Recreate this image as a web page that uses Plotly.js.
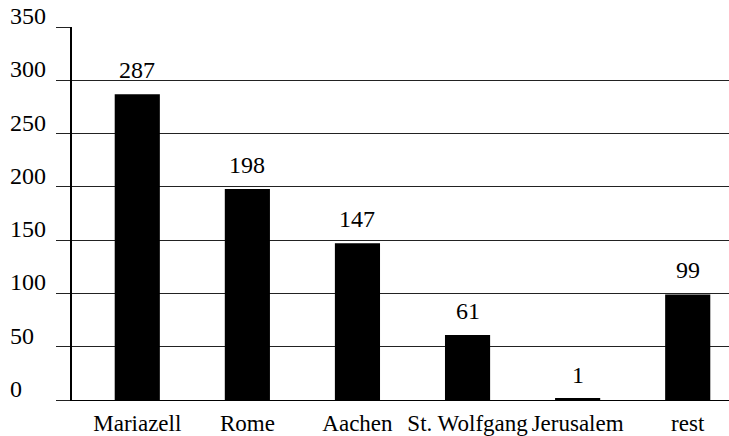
<!DOCTYPE html>
<html>
<head>
<meta charset="utf-8">
<script src="https://cdn.plot.ly/plotly-3.0.1.min.js"></script>
<style>
body{margin:0;padding:0;background:#fff;}
#chart svg text{font-family:"Liberation Serif",serif !important;}
</style>
</head>
<body>
<div id="chart"></div>
<script>
var categories = ["Mariazell", "Rome", "Aachen", "St. Wolfgang", "Jerusalem", "rest"];
var values = [287, 198, 147, 61, 1, 99];
var yTicks = [0, 50, 100, 150, 200, 250, 300, 350];

var xIdx = categories.map(function(c, i){ return i; });

var trace = {
  type: "bar",
  x: xIdx,
  y: values,
  width: 0.41,
  marker: {color: "#000000", line: {width: 0}},
  hoverinfo: "none"
};

var annotations = [];
values.forEach(function(v, i){
  annotations.push({
    x: i, y: v, xref: "x", yref: "y", text: String(v), showarrow: false,
    yanchor: "bottom", xanchor: "center", yshift: 9,
    font: {family: "Liberation Serif", size: 24}
  });
});
yTicks.forEach(function(t){
  annotations.push({
    x: -0.097, y: t, xref: "paper", yref: "y", text: String(t), showarrow: false,
    xanchor: "left", yanchor: "bottom", yshift: -4,
    font: {family: "Liberation Serif", size: 24}
  });
});

var layout = {
  width: 729, height: 436,
  margin: {l: 72, r: 0, t: 27, b: 36, pad: 0},
  paper_bgcolor: "#fff", plot_bgcolor: "#fff",
  showlegend: false,
  font: {family: "Liberation Serif", size: 24, color: "#000"},
  xaxis: {
    range: [-0.593, 5.375],
    tickvals: xIdx, ticktext: categories,
    showgrid: false, zeroline: false,
    showline: true, linecolor: "#000", linewidth: 1,
    ticks: "", ticklabelstandoff: 2,
    tickfont: {family: "Liberation Serif", size: 23}
  },
  yaxis: {
    range: [0, 350],
    tickvals: yTicks,
    showticklabels: false,
    showgrid: true, gridcolor: "#222", gridwidth: 1,
    zeroline: false,
    showline: true, linecolor: "#000", linewidth: 1.5,
    ticks: "outside", ticklen: 14, tickcolor: "#222", tickwidth: 1
  },
  annotations: annotations
};

Plotly.newPlot("chart", [trace], layout, {displayModeBar: false});
</script>
</body>
</html>
